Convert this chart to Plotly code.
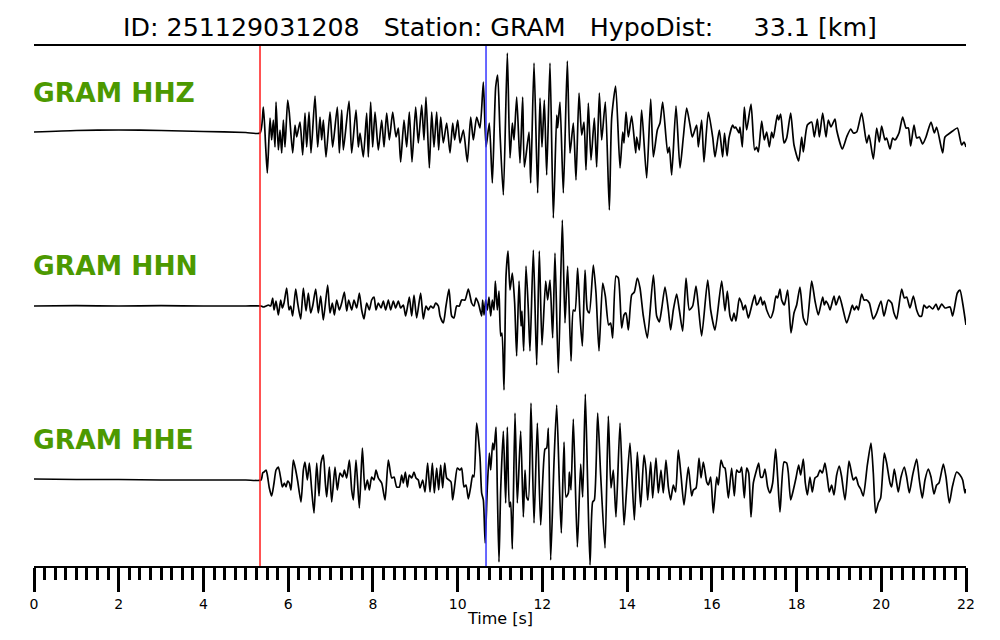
import plotly.graph_objects as go

# ---- data: (time [s], amplitude) samples (extrema) ----
hhz_samples = [
(0,1),(1,2.5),(2,3),(3,2.5),(4,1.5),(5,0.5),(5.335,0),
(5.414,26),(5.469,-14),(5.508,-40),(5.571,15),(5.610,-7),(5.650,13),(5.689,-14),(5.713,31),(5.768,-17),(5.807,3),(5.847,-20),(5.886,13),(5.925,-14),(5.988,33),(6.027,20),(6.106,-20),(6.161,8),(6.201,-4),(6.279,11),(6.342,-22),(6.397,20),(6.437,-14),(6.492,21),(6.539,-20),(6.633,37),(6.696,-14),(6.751,16),(6.791,-7),(6.830,13),(6.893,-24),(6.987,21),(7.050,-14),(7.160,26),(7.208,-20),(7.263,23),(7.302,-17),(7.436,32),(7.499,-20),(7.601,23),(7.656,-14),(7.696,0),(7.774,-24),(7.853,20),(7.892,-24),(7.947,31),(7.994,-14),(8.050,21),(8.128,-17),(8.207,13),(8.262,-14),(8.325,20),(8.388,-7),(8.467,21),(8.545,-4),(8.600,5),(8.655,-29),(8.734,13),(8.797,-14),(8.860,21),(8.923,-29),(9.009,26),(9.072,-10),(9.151,28),(9.206,-7),(9.253,36),(9.332,-35),(9.387,21),(9.442,-14),(9.505,21),(9.552,-17),(9.600,16),(9.662,-10),(9.741,10),(9.820,-20),(9.883,10),(9.930,-7),(10.001,13),(10.056,-10),(10.135,3),(10.229,-29),(10.308,16),(10.371,-7),(10.449,16),(10.528,5),(10.607,51),(10.670,-14),(10.748,10),(10.819,-50),(10.898,46),(10.945,58),(11.000,0),(11.079,-62),(11.173,80),(11.236,-25),(11.291,10),(11.331,-7),(11.394,36),(11.472,-30),(11.535,36),(11.575,-34),(11.685,1),(11.724,-50),(11.803,70),(11.889,-60),(11.944,35),(11.991,-14),(12.047,33),(12.102,-42),(12.180,70),(12.259,-85),(12.338,18),(12.361,5),(12.416,31),(12.495,-60),(12.589,72),(12.652,-20),(12.731,10),(12.794,-47),(12.865,40),(12.928,-2),(12.983,11),(13.030,-37),(13.085,30),(13.148,-27),(13.227,15),(13.282,-34),(13.345,40),(13.400,-7),(13.486,31),(13.581,-77),(13.636,15),(13.730,47),(13.833,-35),(13.896,1),(13.927,-10),(13.975,21),(14.030,-4),(14.108,17),(14.203,-20),(14.226,-4),(14.289,-17),(14.344,23),(14.462,-45),(14.557,34),(14.620,-24),(14.714,3),(14.777,10),(14.840,31),(14.958,-20),(14.997,-14),(15.052,-42),(15.155,27),(15.249,-35),(15.328,-4),(15.406,25),(15.485,8),(15.540,-4),(15.642,8),(15.682,-14),(15.760,13),(15.815,-29),(15.918,21),(16.020,-4),(16.075,-24),(16.177,3),(16.256,-24),(16.300,0),(16.360,-23),(16.405,-5),(16.492,8),(16.531,5),(16.563,6),(16.641,0),(16.665,6),(16.720,-14),(16.767,26),(16.822,3),(16.925,29),(17.011,-17),(17.058,-14),(17.098,-19),(17.177,12),(17.239,-7),(17.295,1),(17.357,-14),(17.413,1),(17.452,-5),(17.546,18),(17.578,13),(17.625,19),(17.704,-10),(17.767,-5),(17.861,20),(17.940,-12),(18.050,-28),(18.121,-4),(18.160,-19),(18.255,8),(18.357,11),(18.420,-4),(18.491,14),(18.538,-4),(18.617,20),(18.695,-4),(18.750,13),(18.813,6),(18.907,14),(18.947,3),(19.081,-16),(19.183,-4),(19.278,4),(19.340,0),(19.419,1),(19.537,20),(19.655,-10),(19.710,-2),(19.812,-26),(19.891,5),(19.954,-9),(20.009,7),(20.088,-7),(20.127,-5),(20.206,-16),(20.269,-5),(20.324,-7),(20.418,0),(20.505,16),(20.584,5),(20.639,5),(20.694,-13),(20.772,8),(20.835,-5),(20.898,-4),(20.977,-11),(21.056,-4),(21.174,11),(21.253,0),(21.307,6),(21.449,-20),(21.504,-4),(21.622,0),(21.685,2),(21.795,5),(21.897,-12),(21.952,-9),(22.0,-14),
]

hhn_samples = [
(0,0),(1,0.3),(2,0),(3,0.3),(4,0),(5,0),(5.359,0),
(5.414,-1),(5.477,0),(5.532,1),(5.587,0),(5.634,8),(5.666,-4),(5.713,5),(5.768,-9),(5.823,6),(5.862,-2),(5.902,3),(5.964,18),(6.020,-4),(6.059,0),(6.106,-10),(6.177,17),(6.224,3),(6.295,-13),(6.358,18),(6.421,-5),(6.476,13),(6.531,-7),(6.578,0),(6.649,17),(6.712,-7),(6.767,10),(6.830,-14),(6.932,21),(6.987,-7),(7.042,3),(7.090,-9),(7.145,6),(7.208,-4),(7.263,3),(7.326,14),(7.381,-5),(7.428,6),(7.499,-4),(7.554,6),(7.617,-2),(7.680,13),(7.735,-4),(7.790,-13),(7.853,3),(7.916,-4),(7.971,6),(8.026,9),(8.073,-4),(8.128,3),(8.191,-2),(8.246,5),(8.301,-4),(8.364,6),(8.419,-4),(8.482,5),(8.537,-2),(8.600,5),(8.655,-2),(8.718,1),(8.773,-10),(8.860,9),(8.915,-10),(8.970,11),(9.033,-12),(9.127,13),(9.190,-13),(9.253,0),(9.308,-4),(9.363,0),(9.427,-2),(9.481,3),(9.545,0),(9.584,-10),(9.662,-17),(9.725,0),(9.796,17),(9.859,-10),(9.914,-12),(9.977,0),(10.040,0),(10.095,6),(10.174,6),(10.253,17),(10.331,3),(10.386,0),(10.434,8),(10.489,3),(10.567,-10),(10.591,6),(10.622,-9),(10.662,6),(10.701,-4),(10.740,9),(10.780,-10),(10.819,6),(10.858,-4),(10.890,25),(10.937,-4),(10.976,15),(11.016,-30),(11.047,-27),(11.095,-84),(11.142,30),(11.189,55),(11.236,16),(11.291,33),(11.346,3),(11.393,-50),(11.449,25),(11.496,-20),(11.519,-5),(11.559,-45),(11.614,40),(11.669,-4),(11.708,-45),(11.787,56),(11.866,-59),(11.928,55),(11.991,-39),(12.078,25),(12.125,6),(12.180,26),(12.243,-32),(12.298,53),(12.377,-67),(12.471,86),(12.534,-17),(12.597,40),(12.676,-55),(12.731,-4),(12.770,-5),(12.833,38),(12.889,-10),(12.944,-40),(13.007,36),(13.062,-4),(13.109,-7),(13.203,41),(13.266,13),(13.337,-45),(13.424,23),(13.486,10),(13.565,-19),(13.612,-17),(13.659,-32),(13.738,30),(13.793,28),(13.872,-22),(13.927,-9),(13.974,-7),(14.030,-24),(14.108,11),(14.171,14),(14.242,28),(14.305,18),(14.383,-10),(14.478,-32),(14.620,31),(14.698,-10),(14.761,-16),(14.816,-3),(14.895,19),(14.974,-4),(15.028,-24),(15.091,-4),(15.170,12),(15.233,-4),(15.312,-25),(15.391,28),(15.469,-4),(15.548,0),(15.627,20),(15.682,0),(15.760,-30),(15.902,26),(15.973,-4),(16.075,-24),(16.232,25),(16.311,-5),(16.366,15),(16.429,-10),(16.476,-15),(16.523,-7),(16.571,-15),(16.649,8),(16.704,3),(16.744,-4),(16.791,1),(16.862,-12),(16.917,-4),(17.011,11),(17.058,1),(17.098,3),(17.153,9),(17.200,1),(17.239,5),(17.295,-4),(17.389,-12),(17.452,-5),(17.515,10),(17.554,8),(17.609,17),(17.649,6),(17.712,1),(17.790,16),(17.869,-27),(17.940,-7),(18.003,1),(18.081,19),(18.160,-12),(18.239,-19),(18.357,25),(18.436,5),(18.514,-9),(18.617,9),(18.656,1),(18.695,5),(18.750,1),(18.790,-4),(18.884,10),(18.931,1),(19.010,10),(19.089,-2),(19.183,-17),(19.262,-7),(19.317,1),(19.364,-4),(19.419,0),(19.458,-4),(19.537,12),(19.592,6),(19.655,6),(19.718,3),(19.812,-13),(19.891,-7),(19.993,5),(20.064,-10),(20.166,6),(20.245,3),(20.300,-7),(20.363,-13),(20.481,17),(20.544,8),(20.599,9),(20.678,-2),(20.757,10),(20.835,-4),(20.898,-10),(20.953,-10),(21.008,1),(21.071,-2),(21.134,0),(21.213,-3),(21.292,2),(21.347,-4),(21.426,2),(21.504,-2),(21.622,-1),(21.685,-10),(21.795,13),(21.858,16),(21.921,3),(22.0,-19),
]

hhe_samples = [
(0,1),(1,0.5),(2,0.5),(3,0),(4,0),(5,0),(5.359,0),
(5.398,7),(5.430,8),(5.477,10),(5.508,5),(5.555,-8),(5.610,-16),(5.666,-3),(5.713,10),(5.768,13),(5.823,2),(5.862,-7),(5.909,-3),(5.949,-7),(5.988,-1),(6.027,-3),(6.067,-10),(6.122,20),(6.177,10),(6.224,-1),(6.303,-22),(6.358,10),(6.397,18),(6.452,0),(6.500,17),(6.555,-10),(6.610,-33),(6.673,17),(6.728,-16),(6.775,17),(6.830,25),(6.877,-3),(6.909,-17),(6.972,13),(7.027,-22),(7.105,13),(7.160,-10),(7.223,7),(7.286,3),(7.326,10),(7.381,2),(7.444,20),(7.499,-10),(7.538,-20),(7.601,20),(7.680,-28),(7.751,32),(7.813,-10),(7.869,0),(7.916,-10),(7.971,3),(8.026,0),(8.073,10),(8.128,2),(8.207,-3),(8.286,-20),(8.364,20),(8.443,2),(8.498,3),(8.561,-7),(8.624,-7),(8.679,5),(8.718,-3),(8.766,8),(8.813,-7),(8.860,5),(8.915,2),(8.970,8),(9.017,2),(9.072,0),(9.112,-8),(9.175,0),(9.230,-12),(9.292,17),(9.348,-12),(9.403,17),(9.450,-13),(9.505,12),(9.552,-10),(9.600,15),(9.647,-8),(9.694,17),(9.741,2),(9.796,0),(9.844,-2),(9.883,-20),(9.938,-3),(9.993,12),(10.056,10),(10.095,12),(10.150,-7),(10.198,-5),(10.253,-19),(10.308,-7),(10.355,5),(10.386,3),(10.449,57),(10.528,23),(10.567,-13),(10.607,-20),(10.650,-63),(10.701,-7),(10.748,27),(10.780,10),(10.827,37),(10.858,30),(10.906,53),(10.937,-10),(10.976,-82),(11.016,-10),(11.079,49),(11.134,-23),(11.173,53),(11.220,-27),(11.252,-22),(11.291,-69),(11.354,67),(11.409,-23),(11.488,49),(11.551,-37),(11.590,10),(11.630,-17),(11.669,-20),(11.732,77),(11.803,-43),(11.882,57),(11.960,-45),(12.062,31),(12.102,32),(12.141,52),(12.196,-80),(12.275,18),(12.338,75),(12.401,-3),(12.448,-53),(12.511,38),(12.558,-17),(12.613,-13),(12.637,8),(12.676,-10),(12.731,61),(12.826,-67),(12.904,16),(12.952,-17),(13.014,86),(13.069,-3),(13.125,-85),(13.187,-22),(13.227,-20),(13.306,67),(13.376,5),(13.479,-68),(13.557,64),(13.620,-8),(13.675,10),(13.738,-37),(13.833,57),(13.927,-45),(13.990,-8),(14.069,37),(14.171,-40),(14.242,28),(14.320,-27),(14.399,25),(14.446,10),(14.486,-20),(14.557,18),(14.604,-18),(14.682,22),(14.737,-13),(14.800,10),(14.855,-13),(14.918,20),(14.974,-7),(15.028,-20),(15.091,-5),(15.146,-12),(15.209,30),(15.272,5),(15.343,-25),(15.446,13),(15.524,-16),(15.564,-10),(15.627,-8),(15.698,22),(15.745,2),(15.800,18),(15.879,-2),(15.918,-5),(15.973,3),(16.036,-33),(16.115,3),(16.154,-5),(16.217,20),(16.272,13),(16.311,12),(16.390,-18),(16.468,12),(16.531,-16),(16.586,10),(16.626,8),(16.665,8),(16.704,13),(16.767,-18),(16.822,12),(16.870,7),(16.925,-37),(16.980,-3),(17.043,8),(17.106,17),(17.153,3),(17.200,3),(17.255,11),(17.318,-7),(17.373,-13),(17.436,-3),(17.507,31),(17.554,3),(17.609,-32),(17.704,18),(17.767,17),(17.806,7),(17.861,-20),(17.924,-10),(17.987,2),(18.050,15),(18.097,5),(18.160,21),(18.207,-3),(18.255,-15),(18.317,3),(18.372,-12),(18.435,2),(18.498,4),(18.554,10),(18.609,7),(18.671,17),(18.727,2),(18.774,-12),(18.829,-5),(18.884,-15),(18.947,5),(19.010,14),(19.065,3),(19.144,-20),(19.238,19),(19.285,10),(19.340,0),(19.403,3),(19.458,-5),(19.513,-9),(19.576,-16),(19.671,15),(19.757,37),(19.812,7),(19.867,-33),(19.930,-23),(19.985,-18),(20.072,27),(20.127,17),(20.206,-3),(20.245,-7),(20.308,11),(20.363,-3),(20.402,-12),(20.466,3),(20.544,13),(20.599,3),(20.662,-13),(20.741,5),(20.835,21),(20.898,0),(20.969,-18),(21.032,0),(21.111,11),(21.174,3),(21.244,-14),(21.307,-5),(21.362,-3),(21.465,16),(21.528,3),(21.606,-23),(21.677,-7),(21.779,8),(21.858,5),(21.921,0),(21.976,-13),(22.0,-9),
]

channels = ["GRAM HHZ", "GRAM HHN", "GRAM HHE"]
p_pick = 5.335   # red marker [s]
s_pick = 10.67   # blue marker [s]
tick_vals = list(range(0, 23, 2))
title_text = "ID: 251129031208   Station: GRAM   HypoDist:     33.1 [km]"

# ---- layout / style ----
offsets = [433, 260, 86]
label_rise = 41
green = "#4c9900"

fig = go.Figure()
for samples, off in zip([hhz_samples, hhn_samples, hhe_samples], offsets):
    t = [s[0] for s in samples]
    a = [s[1] + off for s in samples]
    fig.add_trace(go.Scatter(x=t, y=a, mode="lines",
                             line=dict(color="black", width=1.7, shape="spline", smoothing=0.6),
                             hoverinfo="skip", showlegend=False))

for name, off in zip(channels, offsets):
    fig.add_annotation(x=0, xref="paper", xanchor="left", xshift=-3, y=off + label_rise, yref="y",
                       yanchor="middle", text="<b>" + name + "</b>", showarrow=False,
                       font=dict(family="DejaVu Sans", size=26.5, color=green))

fig.add_shape(type="line", x0=p_pick, x1=p_pick, xref="x", y0=0, y1=1, yref="paper",
              line=dict(color="#ff1a1a", width=1.5), layer="above")
fig.add_shape(type="line", x0=s_pick, x1=s_pick, xref="x", y0=0, y1=1, yref="paper",
              line=dict(color="#3636ff", width=1.5), layer="above")

fig.add_annotation(x=0.5, xref="paper", y=-0.1, yref="paper", yanchor="middle",
                   text="Time [s]", showarrow=False,
                   font=dict(family="DejaVu Sans", size=16, color="black"))

# page body adds an 8px offset; margins compensate so the plot area sits at x 34..966, y 46..566
fig.update_layout(
    width=1000, height=640,
    margin=dict(l=26, r=42, t=38, b=82),
    paper_bgcolor="white", plot_bgcolor="white",
    title=dict(text=title_text.replace(" ", "\u00a0"), x=0.5 - 8 / 1000, xanchor="center",
               y=1 - 19 / 640, yref="container", yanchor="middle",
               font=dict(family="DejaVu Sans", size=25.3, color="black")),
    xaxis=dict(range=[0, 22], showgrid=False, zeroline=False,
               showline=True, linecolor="black", linewidth=2, mirror=True,
               tickvals=tick_vals, ticks="outside", ticklen=24, tickwidth=3, tickcolor="black",
               tickfont=dict(family="DejaVu Sans", size=14, color="black"),
               minor=dict(dtick=0.25, tick0=0, ticks="outside", ticklen=12, tickwidth=2.5,
                          tickcolor="black", showgrid=False)),
    yaxis=dict(range=[0, 520], visible=False, showgrid=False, zeroline=False, fixedrange=True),
)

fig.write_html("out.html")
